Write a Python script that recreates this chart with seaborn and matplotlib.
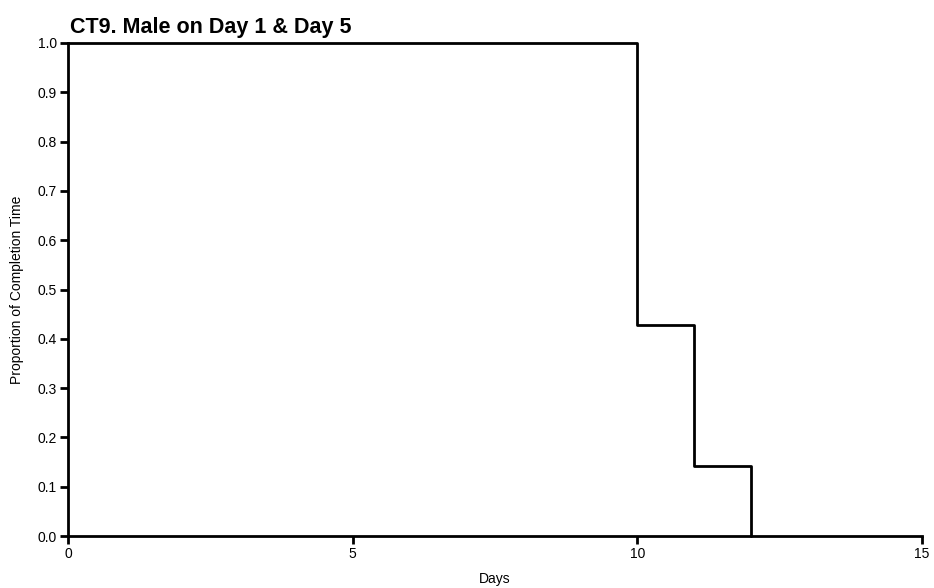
import matplotlib
matplotlib.use("Agg")
import matplotlib.pyplot as plt
import seaborn as sns
import pandas as pd

days = [0, 10, 11, 12]
proportion = [1.0, 0.4286, 0.1429, 0.0]
x_ticks = [0, 5, 10, 15]
y_ticks = [0.0, 0.1, 0.2, 0.3, 0.4, 0.5, 0.6, 0.7, 0.8, 0.9, 1.0]

sns.set_theme(style="ticks")
plt.rcParams['font.family'] = ['Liberation Sans', 'DejaVu Sans']
plt.rcParams['text.color'] = 'black'
plt.rcParams['axes.labelcolor'] = 'black'

df = pd.DataFrame({"Days": days, "Proportion": proportion})

fig = plt.figure(figsize=(9.34, 5.88), dpi=100)
ax = fig.add_axes([0.0728, 0.0884, 0.9142, 0.8385])

sns.lineplot(data=df, x="Days", y="Proportion", drawstyle="steps-post",
             color="black", linewidth=2, ax=ax, estimator=None)

ax.set_xlim(0, 15)
ax.set_ylim(0, 1.0)
ax.set_xticks(x_ticks)
ax.set_xticklabels([str(t) for t in x_ticks])
ax.set_yticks(y_ticks)
ax.set_yticklabels([f"{t:.1f}" for t in y_ticks])

for s in ["top", "right"]:
    ax.spines[s].set_visible(False)
for s in ["left", "bottom"]:
    ax.spines[s].set_linewidth(2)
    ax.spines[s].set_color("black")

ax.tick_params(axis="both", direction="out", length=6, width=2, colors="black",
               labelsize=10, pad=2)
ax.set_xlabel("Days", fontsize=10, labelpad=8)
ax.set_ylabel("Proportion of Completion Time", fontsize=10, labelpad=10)
ax.set_title("CT9. Male on Day 1 & Day 5", fontsize=15.5, fontweight="bold",
             loc="left", x=0.002, pad=7)

for line in ax.lines:
    line.set_clip_on(False)

fig.savefig("out.png", dpi=100)
